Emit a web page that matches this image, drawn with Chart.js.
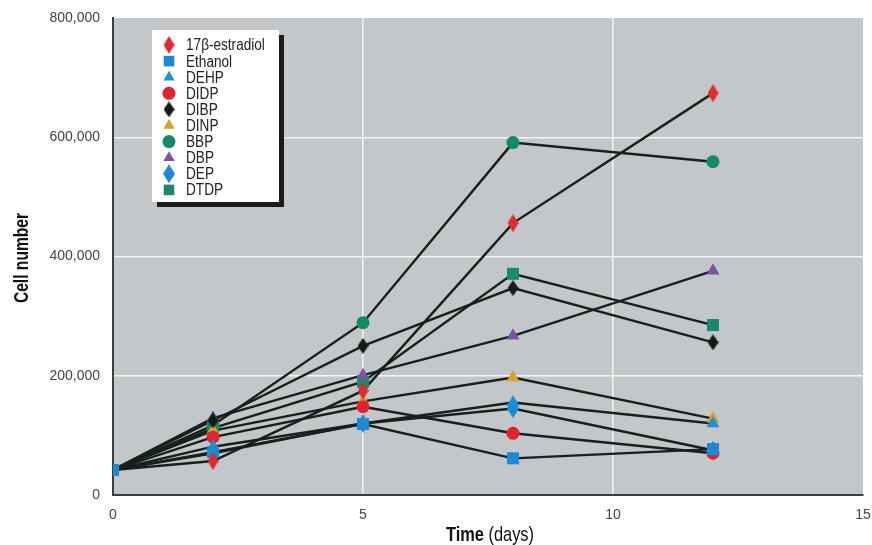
<!DOCTYPE html>
<html>
<head>
<meta charset="utf-8">
<script src="https://cdn.jsdelivr.net/npm/chart.js@4/dist/chart.umd.min.js"></script>
<style>
html,body{margin:0;padding:0;background:#fff;}
#wrap{width:872px;height:545px;position:relative;}
</style>
</head>
<body>
<div id="wrap"><canvas id="c" width="872" height="545"></canvas></div>
<script>
const days = [0, 2, 5, 8, 12];
const seriesNames = ['17β-estradiol','Ethanol','DEHP','DIDP','DIBP','DINP','BBP','DBP','DEP','DTDP'];
const estradiol = [42000, 57000, 175000, 456000, 674000];
const ethanol   = [42000, 72000, 119000, 61500, 77000];
const dehp      = [42000, 81000, 120000, 155000, 120000];
const didp      = [42000, 97000, 148000, 103500, 70000];
const dibp      = [42000, 125000, 250000, 347000, 256000];
const dinp      = [42000, 108000, 157000, 197000, 128000];
const bbp       = [42000, 117000, 289000, 591000, 559000];
const dbp       = [42000, 129000, 201000, 267000, 376000];
const dep       = [42000, 70000, 120000, 145000, 75000];
const dtdp      = [42000, 112000, 190000, 371000, 285000];
const xTicks = [0, 5, 10, 15];
const yTicks = [0, 200000, 400000, 600000, 800000];

const allValues = [estradiol, ethanol, dehp, didp, dibp, dinp, bbp, dbp, dep, dtdp];

function diamond(w, h, color){
  const c = document.createElement('canvas');
  c.width = w; c.height = h;
  const g = c.getContext('2d');
  g.fillStyle = color;
  g.beginPath();
  g.moveTo(w/2, 0); g.lineTo(w, h/2); g.lineTo(w/2, h); g.lineTo(0, h/2); g.closePath();
  g.fill();
  return c;
}
const styles = [
  {color:'#e12a2e', style: diamond(11,18,'#e12a2e'), r:8},
  {color:'#1b8ad6', style:'rect', r:8.5},
  {color:'#1f8fd8', style:'triangle', r:7.5},
  {color:'#e0232d', style:'circle', r:6.5},
  {color:'#151a18', style: diamond(11,16,'#151a18'), r:7},
  {color:'#d8a224', style:'triangle', r:7.5},
  {color:'#128a64', style:'circle', r:6.5},
  {color:'#7b52a6', style:'triangle', r:7.5},
  {color:'#1b8ad6', style: diamond(12,19,'#1b8ad6'), r:8},
  {color:'#168a6c', style:'rect', r:8.5}
];
const legendR = [7, 7.5, 6.5, 6.5, 7, 6.5, 6.5, 6.5, 7, 7.5];

const datasets = [];
allValues.forEach((vals, i) => {
  const pts = days.map((d, j) => ({x: d, y: vals[j]}));
  datasets.push({
    label: seriesNames[i] + ' line',
    data: pts,
    showLine: true,
    borderColor: '#16201c',
    borderWidth: 2.4,
    pointRadius: 0,
    order: 2
  });
});
allValues.forEach((vals, i) => {
  const pts = days.map((d, j) => ({x: d, y: vals[j]}));
  const s = styles[i];
  datasets.push({
    label: seriesNames[i],
    data: pts,
    showLine: false,
    backgroundColor: s.color,
    borderColor: s.color,
    borderWidth: 0,
    pointStyle: s.style,
    pointRadius: (ctx) => (ctx.dataIndex === 0 && i !== 1) ? 0 : s.r,
    order: 1
  });
});

const FONT = '"Liberation Sans", Arial, sans-serif';

const bgPlugin = {
  id: 'bg',
  beforeDraw(chart){
    const {ctx, chartArea:a} = chart;
    ctx.save();
    ctx.fillStyle = '#c3c7c9';
    ctx.fillRect(a.left, a.top, a.right - a.left, a.bottom - a.top);
    ctx.restore();
  }
};

const titlePlugin = {
  id: 'titles',
  afterDraw(chart){
    const ctx = chart.ctx;
    ctx.save();
    ctx.translate(22, 258);
    ctx.rotate(-Math.PI/2);
    ctx.scale(0.78, 1);
    ctx.fillStyle = '#111';
    ctx.font = 'bold 20px ' + FONT;
    ctx.textAlign = 'center';
    ctx.textBaseline = 'middle';
    ctx.fillText('Cell number', 0, 0);
    ctx.restore();

    ctx.save();
    ctx.textBaseline = 'middle';
    const a = 'Time', b = ' (days)';
    const sx = 0.78;
    ctx.font = 'bold 21px ' + FONT;
    const wa = ctx.measureText(a).width * sx;
    ctx.font = '21px ' + FONT;
    const wb = ctx.measureText(b).width * sx;
    const x0 = 490 - (wa + wb)/2;
    ctx.fillStyle = '#111';
    ctx.translate(x0, 535);
    ctx.scale(sx, 1);
    ctx.textAlign = 'left';
    ctx.font = 'bold 21px ' + FONT;
    ctx.fillText(a, 0, 0);
    ctx.font = '21px ' + FONT;
    ctx.fillText(b, wa / sx, 0);
    ctx.restore();
  }
};

const legendPlugin = {
  id: 'customLegend',
  afterDatasetsDraw(chart){
    const ctx = chart.ctx;
    const bx = 152, by = 30, bw = 127, bh = 172;
    ctx.save();
    ctx.fillStyle = '#1c1c1c';
    ctx.fillRect(bx + 5, by + 5, bw, bh);
    ctx.fillStyle = '#ffffff';
    ctx.fillRect(bx, by, bw, bh);
    ctx.textBaseline = 'middle';
    ctx.textAlign = 'left';
    seriesNames.forEach((name, i) => {
      const y = 45 + i * 16.1;
      const s = styles[i];
      ctx.fillStyle = s.color;
      ctx.strokeStyle = s.color;
      Chart.helpers.drawPoint(ctx, {pointStyle: s.style, radius: legendR[i], borderWidth: 0, rotation: 0}, 169, y);
      ctx.save();
      ctx.translate(186, y + 1);
      ctx.scale(0.85, 1);
      ctx.font = '16px ' + FONT;
      ctx.fillStyle = '#222';
      ctx.fillText(name, 0, 0);
      ctx.restore();
    });
    ctx.restore();
  }
};

new Chart(document.getElementById('c'), {
  type: 'scatter',
  data: { datasets },
  options: {
    responsive: false,
    animation: false,
    layout: { padding: { top: 18, right: 9, left: 0, bottom: 0 } },
    plugins: { legend: { display: false }, tooltip: { enabled: false } },
    scales: {
      x: {
        type: 'linear', min: 0, max: 15,
        afterBuildTicks(axis){ axis.ticks = xTicks.map(v => ({value: v})); },
        afterFit(axis){ axis.height = 50; axis.paddingRight = 0; },
        ticks: { color: '#444', font: { family: FONT, size: 14 }, padding: 12, maxRotation: 0 },
        grid: { drawTicks: false, color: (c) => (c.tick && (c.tick.value === 5 || c.tick.value === 10)) ? '#f4f4f4' : 'rgba(0,0,0,0)', lineWidth: 1.5 },
        border: { color: '#3c3f3e', width: 2 }
      },
      y: {
        type: 'linear', min: 0, max: 800000,
        afterBuildTicks(axis){ axis.ticks = yTicks.map(v => ({value: v})); },
        afterFit(axis){ axis.width = 113; axis.paddingTop = 0; },
        ticks: { color: '#444', font: { family: FONT, size: 14 }, padding: 13,
          callback: (v) => v.toLocaleString('en-US') },
        grid: { drawTicks: false, color: (c) => (c.tick && c.tick.value > 0 && c.tick.value < 800000) ? '#f4f4f4' : 'rgba(0,0,0,0)', lineWidth: 1.5 },
        border: { color: '#3c3f3e', width: 2 }
      }
    }
  },
  plugins: [bgPlugin, legendPlugin, titlePlugin]
});
</script>
</body>
</html>
